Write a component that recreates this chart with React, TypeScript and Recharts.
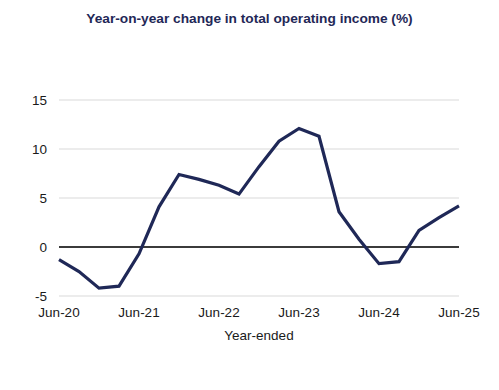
import { LineChart, Line, XAxis, YAxis, CartesianGrid, ReferenceLine } from 'recharts';

// quarterly periods, year-ended
const quarters = [
  'Jun-20', 'Sep-20', 'Dec-20', 'Mar-21',
  'Jun-21', 'Sep-21', 'Dec-21', 'Mar-22',
  'Jun-22', 'Sep-22', 'Dec-22', 'Mar-23',
  'Jun-23', 'Sep-23', 'Dec-23', 'Mar-24',
  'Jun-24', 'Sep-24', 'Dec-24', 'Mar-25',
  'Jun-25',
];

// year-on-year change in total operating income, %
const incomeChange = [
  -1.3, -2.5, -4.2, -4.0,
  -0.7, 4.1, 7.4, 6.9,
  6.3, 5.4, 8.2, 10.8,
  12.1, 11.3, 3.6, 0.8,
  -1.7, -1.5, 1.7, 3.0,
  4.2,
];

const yTicks = [-5, 0, 5, 10, 15];

const data = quarters.map((q, i) => ({ quarter: q, value: incomeChange[i] }));

const NAVY = '#1f2857';
const FONT = '"Liberation Sans", Arial, sans-serif';

export default function App() {
  return (
    <div style={{ position: 'absolute', left: 0, top: 0, width: 499, height: 390, background: '#fff', fontFamily: FONT }}>
      <div
        style={{
          position: 'absolute',
          top: 11,
          left: 0,
          width: 499,
          textAlign: 'center',
          fontSize: 13.7,
          fontWeight: 'bold',
          color: NAVY,
        }}
      >
        Year-on-year change in total operating income (%)
      </div>
      <LineChart width={499} height={390} data={data} margin={{ top: 100, right: 40, bottom: 44, left: 19 }}>
        <CartesianGrid vertical={false} stroke="#d9d9d9" strokeWidth={1.2} />
        <XAxis
          dataKey="quarter"
          interval={3}
          axisLine={false}
          tickLine={false}
          tickMargin={5}
          height={50}
          tick={{ fontSize: 13.5, fill: '#1a1a1a', fontFamily: FONT }}
          label={{ value: 'Year-ended', position: 'insideBottom', offset: 6, fontSize: 13.5, fill: '#1a1a1a', fontFamily: FONT }}
        />
        <YAxis
          domain={[-5, 15]}
          ticks={yTicks}
          width={40}
          axisLine={false}
          tickLine={false}
          tickMargin={6}
          tick={{ fontSize: 13.5, fill: '#1a1a1a', fontFamily: FONT }}
        />
        <ReferenceLine y={0} stroke="#000" strokeWidth={1.3} />
        <Line
          type="linear"
          dataKey="value"
          stroke={NAVY}
          strokeWidth={3.2}
          dot={false}
          isAnimationActive={false}
        />
      </LineChart>
    </div>
  );
}
